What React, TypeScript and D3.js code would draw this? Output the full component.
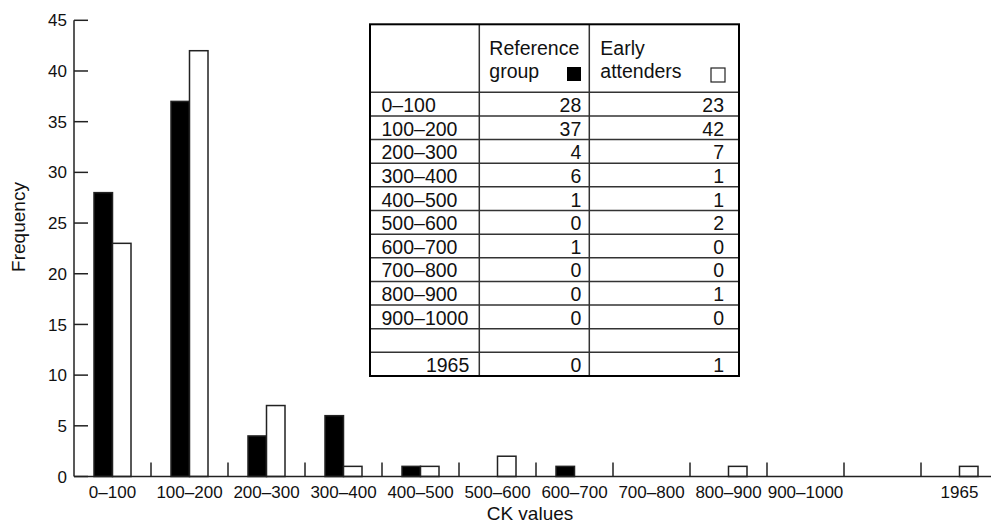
import React, { useEffect, useRef } from 'react';
import * as d3 from 'd3';

// CK value bins (blank slot before the single outlier at 1965)
const categories = ['0–100', '100–200', '200–300', '300–400', '400–500', '500–600', '600–700', '700–800', '800–900', '900–1000', '', '1965'];
const referenceGroup = [28, 37, 4, 6, 1, 0, 1, 0, 0, 0, null, 0];
const earlyAttenders = [23, 42, 7, 1, 1, 2, 0, 0, 1, 0, null, 1];
const yTicks = [0, 5, 10, 15, 20, 25, 30, 35, 40, 45];

const WIDTH = 991;
const HEIGHT = 526;
const FONT = 'Liberation Sans, Arial, Helvetica, sans-serif';

const App = () => {
  const svgRef = useRef<SVGSVGElement>(null);

  useEffect(() => {
    const svg = d3.select(svgRef.current);
    svg.selectAll('*').remove();

    const left = 74;
    const bottom = 476.5;
    const top = 20.3;

    const x = d3.scaleBand<number>()
      .domain(categories.map((_, i) => i))
      .range([left, left + 77 * categories.length]);

    const x1 = d3.scaleBand<string>()
      .domain(['ref', 'early'])
      .range([20, 57]);

    const y = d3.scaleLinear().domain([0, 45]).range([bottom, top]);

    const g = svg.append('g').style('font-family', FONT).style('fill', '#111');

    // Bars
    const series = [
      { key: 'ref', values: referenceGroup, fill: '#000' },
      { key: 'early', values: earlyAttenders, fill: '#fff' },
    ];
    series.forEach(s => {
      g.append('g')
        .selectAll('rect')
        .data(s.values.map((v, i) => ({ v, i })).filter(d => d.v != null && d.v > 0))
        .enter()
        .append('rect')
        .attr('x', d => (x(d.i) as number) + (x1(s.key) as number))
        .attr('y', d => y(d.v as number))
        .attr('width', x1.bandwidth())
        .attr('height', d => bottom - y(d.v as number))
        .attr('fill', s.fill)
        .attr('stroke', '#222')
        .attr('stroke-width', 1.5);
    });

    // Y axis
    g.append('line')
      .attr('x1', left).attr('x2', left)
      .attr('y1', top).attr('y2', bottom)
      .attr('stroke', '#222').attr('stroke-width', 1.5);
    yTicks.forEach(t => {
      g.append('line')
        .attr('x1', left).attr('x2', left + 14)
        .attr('y1', y(t)).attr('y2', y(t))
        .attr('stroke', '#222').attr('stroke-width', 1.5);
      g.append('text')
        .attr('x', left - 7)
        .attr('y', y(t))
        .attr('dy', '0.36em')
        .attr('text-anchor', 'end')
        .style('font-size', '17px')
        .text(t);
    });

    // X axis
    g.append('line')
      .attr('x1', left).attr('x2', WIDTH)
      .attr('y1', bottom).attr('y2', bottom)
      .attr('stroke', '#222').attr('stroke-width', 1.5);
    categories.forEach((c, i) => {
      if (i > 0) {
        g.append('line')
          .attr('x1', x(i) as number).attr('x2', x(i) as number)
          .attr('y1', bottom).attr('y2', bottom - 14)
          .attr('stroke', '#222').attr('stroke-width', 1.5);
      }
      g.append('text')
        .attr('x', (x(i) as number) + x.bandwidth() / 2)
        .attr('y', 498)
        .attr('text-anchor', 'middle')
        .style('font-size', '17px')
        .text(c);
    });

    // Axis titles
    g.append('text')
      .attr('x', 530)
      .attr('y', 520)
      .attr('text-anchor', 'middle')
      .style('font-size', '19px')
      .text('CK values');

    g.append('text')
      .attr('transform', 'translate(25, 227) rotate(-90)')
      .attr('text-anchor', 'middle')
      .style('font-size', '19px')
      .text('Frequency');

    // Table
    const tLeft = 370, tRight = 739, tTop = 24.3, headBottom = 92.3, tBottom = 376;
    const col1 = 479.3, col2 = 589.3;
    const rows = d3.scaleBand<number>()
      .domain(categories.map((_, i) => i))
      .range([headBottom, tBottom]);

    const tg = g.append('g');
    tg.append('rect')
      .attr('x', tLeft).attr('y', tTop)
      .attr('width', tRight - tLeft).attr('height', tBottom - tTop)
      .attr('fill', '#fff');

    categories.forEach((_, i) => {
      tg.append('line')
        .attr('x1', tLeft).attr('x2', tRight)
        .attr('y1', rows(i) as number).attr('y2', rows(i) as number)
        .attr('stroke', '#333').attr('stroke-width', 1.5);
    });
    [col1, col2].forEach(cx => {
      tg.append('line')
        .attr('x1', cx).attr('x2', cx)
        .attr('y1', tTop).attr('y2', tBottom)
        .attr('stroke', '#333').attr('stroke-width', 1.5);
    });
    tg.append('rect')
      .attr('x', tLeft).attr('y', tTop)
      .attr('width', tRight - tLeft).attr('height', tBottom - tTop)
      .attr('fill', 'none')
      .attr('stroke', '#000').attr('stroke-width', 2);

    // Header
    const header = [
      { x: col1 + 10, lines: ['Reference', 'group'] },
      { x: col2 + 11, lines: ['Early', 'attenders'] },
    ];
    header.forEach(h => {
      h.lines.forEach((l, k) => {
        tg.append('text')
          .attr('x', h.x)
          .attr('y', 55 + k * 23)
          .style('font-size', '19.5px')
          .text(l);
      });
    });
    tg.append('rect')
      .attr('x', 567).attr('y', 67)
      .attr('width', 14).attr('height', 14)
      .attr('fill', '#000');
    tg.append('rect')
      .attr('x', 711).attr('y', 68)
      .attr('width', 14).attr('height', 14)
      .attr('fill', '#fff').attr('stroke', '#222').attr('stroke-width', 1.2);

    categories.forEach((c, i) => {
      const by = (rows(i) as number) + 19.7;
      const isOutlier = c === '1965';
      tg.append('text')
        .attr('x', isOutlier ? col1 - 10 : tLeft + 11.5)
        .attr('y', by)
        .attr('text-anchor', isOutlier ? 'end' : 'start')
        .style('font-size', '19.5px')
        .text(c);
      if (referenceGroup[i] != null) {
        tg.append('text')
          .attr('x', col2 - 8).attr('y', by)
          .attr('text-anchor', 'end')
          .style('font-size', '19.5px')
          .text(referenceGroup[i] as number);
      }
      if (earlyAttenders[i] != null) {
        tg.append('text')
          .attr('x', tRight - 15).attr('y', by)
          .attr('text-anchor', 'end')
          .style('font-size', '19.5px')
          .text(earlyAttenders[i] as number);
      }
    });
  }, []);

  return (
    <svg
      ref={svgRef}
      width={WIDTH}
      height={HEIGHT}
      style={{ position: 'absolute', left: 0, top: 0, background: '#fff' }}
    />
  );
};

export default App;
